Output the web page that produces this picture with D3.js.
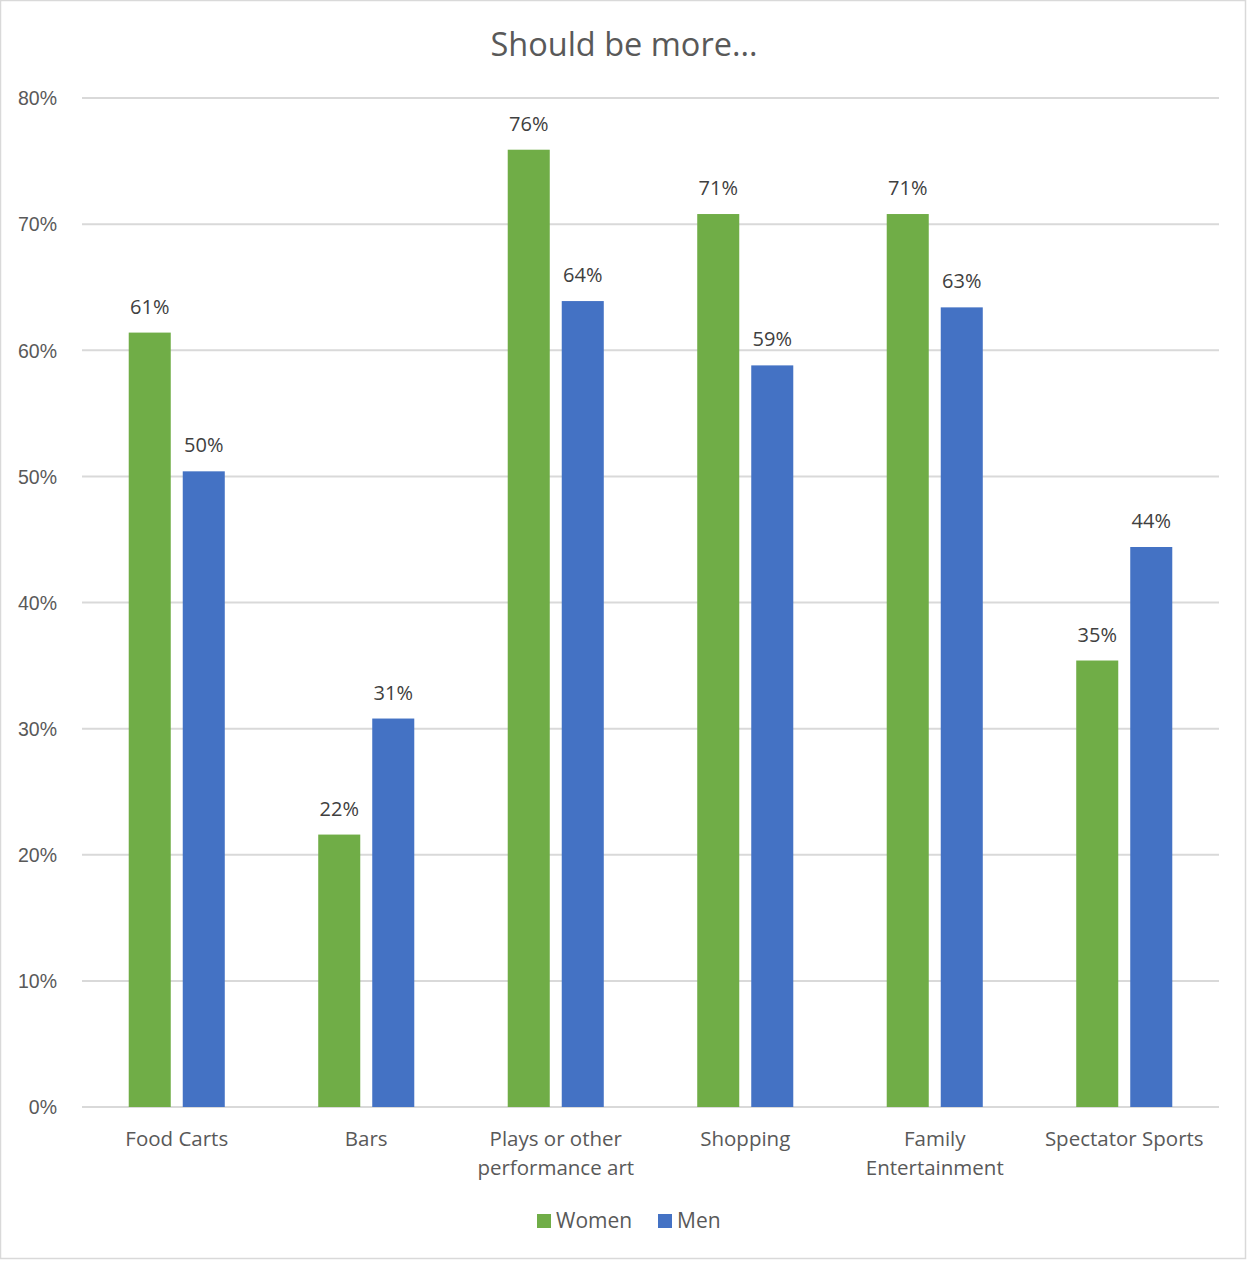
<!DOCTYPE html>
<html>
<head>
<meta charset="utf-8">
<script src="https://cdn.jsdelivr.net/npm/d3@7"></script>
<style>
  body { margin: 0; background: #fff; }
  svg { font-family: "Open Sans", "Noto Sans", sans-serif; }
  .grid line { stroke: #d9d9d9; stroke-width: 2; }
  .tick text { fill: #595959; font-size: 19.5px; }
</style>
</head>
<body>
<div id="chart"></div>
<script>
const categories = ["Food Carts", "Bars", "Plays or other|performance art", "Shopping", "Family|Entertainment", "Spectator Sports"];
const seriesNames = ["Women", "Men"];
const women = [61.4, 21.6, 75.9, 70.8, 70.8, 35.4];
const men = [50.4, 30.8, 63.9, 58.8, 63.4, 44.4];
const yTicks = [0, 10, 20, 30, 40, 50, 60, 70, 80];
const COLORS = ["#70ad47", "#4472c4"];

const WIDTH = 1247, HEIGHT = 1261;
const margin = { top: 98, right: 28, bottom: 154, left: 82 };

var svg = d3.select("#chart").append("svg")
  .attr("width", WIDTH)
  .attr("height", HEIGHT);

// outer border
svg.append("rect")
  .attr("x", 0.5).attr("y", 0.5)
  .attr("width", WIDTH - 2).attr("height", HEIGHT - 3)
  .attr("fill", "none").attr("stroke", "#d9d9d9").attr("stroke-width", 1.5);

svg.append("text")
  .attr("x", 624).attr("y", 56)
  .attr("text-anchor", "middle")
  .attr("fill", "#595959")
  .attr("font-size", "32.5px")
  .text("Should be more...");

var x = d3.scaleBand()
  .domain(categories)
  .range([margin.left, WIDTH - margin.right]);

var xInner = d3.scaleBand()
  .domain(seriesNames)
  .range([0, x.bandwidth()])
  .paddingInner(0.222)
  .paddingOuter(0.865);

var y = d3.scaleLinear()
  .domain([0, 80])
  .range([HEIGHT - margin.bottom, margin.top]);

// gridlines
svg.append("g")
  .attr("class", "grid")
  .selectAll("line")
  .data(yTicks)
  .enter().append("line")
  .attr("x1", margin.left).attr("x2", WIDTH - margin.right)
  .attr("y1", d => y(d)).attr("y2", d => y(d));

// y axis labels
var yAxis = svg.append("g")
  .attr("transform", "translate(" + (margin.left - 22) + ",0)")
  .call(d3.axisLeft(y).tickValues(yTicks).tickFormat(d => d + "%").tickSize(0));
yAxis.select(".domain").remove();
yAxis.selectAll("text").attr("dy", "0.35em");

var data = categories.map((c, i) => ({ cat: c, vals: [women[i], men[i]] }));

var groups = svg.selectAll(".cat")
  .data(data)
  .enter().append("g")
  .attr("class", "cat")
  .attr("transform", d => "translate(" + x(d.cat) + ",0)");

groups.selectAll("rect")
  .data(d => d.vals.map((v, j) => ({ s: seriesNames[j], v: v, j: j })))
  .enter().append("rect")
  .attr("x", d => xInner(d.s))
  .attr("width", xInner.bandwidth())
  .attr("y", d => y(d.v))
  .attr("height", d => y(0) - y(d.v))
  .attr("fill", d => COLORS[d.j]);

groups.selectAll(".val")
  .data(d => d.vals.map((v, j) => ({ s: seriesNames[j], v: v })))
  .enter().append("text")
  .attr("class", "val")
  .attr("x", d => xInner(d.s) + xInner.bandwidth() / 2)
  .attr("y", d => y(d.v) - 19)
  .attr("text-anchor", "middle")
  .attr("fill", "#404040")
  .attr("font-size", "20px")
  .text(d => Math.round(d.v) + "%");

// category labels
var xl = svg.append("g");
categories.forEach(function(c) {
  var t = xl.append("text")
    .attr("x", x(c) + x.bandwidth() / 2)
    .attr("y", y(0) + 39)
    .attr("text-anchor", "middle")
    .attr("fill", "#595959")
    .attr("font-size", "20.5px");
  c.split("|").forEach(function(line, k) {
    t.append("tspan")
      .attr("x", x(c) + x.bandwidth() / 2)
      .attr("dy", k === 0 ? 0 : 29)
      .text(line);
  });
});

// legend
var legendX = [537, 658];
var legend = svg.selectAll(".legend")
  .data(seriesNames)
  .enter().append("g")
  .attr("class", "legend")
  .attr("transform", (d, i) => "translate(" + legendX[i] + ",1214)");
legend.append("rect")
  .attr("width", 14).attr("height", 14)
  .attr("fill", (d, i) => COLORS[i]);
legend.append("text")
  .attr("x", 19).attr("y", 7).attr("dy", "0.35em")
  .attr("fill", "#595959")
  .attr("font-size", "21px")
  .text(d => d);
</script>
</body>
</html>
